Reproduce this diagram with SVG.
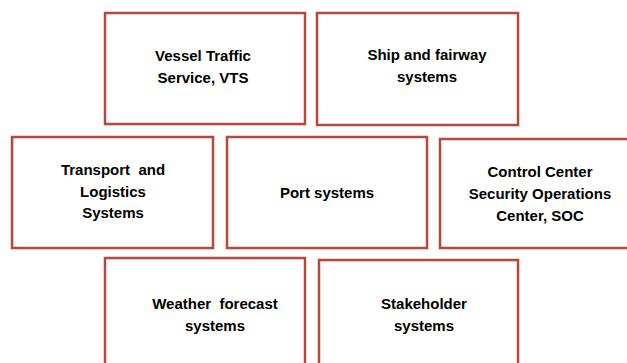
<svg xmlns="http://www.w3.org/2000/svg" width="627" height="363" viewBox="0 0 627 363">
<style>
.box{fill:#ffffff;stroke:#B9483B;stroke-width:2.5}
.t{font-family:"Liberation Sans",Arial,sans-serif;font-weight:bold;font-size:15px;fill:#000;text-anchor:middle;white-space:pre}
</style>
<rect width="627" height="363" fill="#ffffff"/>
<g id="connectors"></g>
<g id="vts"><rect class="box" x="105" y="13" width="200" height="111"/>
<text class="t" x="203" y="61">Vessel Traffic</text><text class="t" x="203" y="83">Service, VTS</text></g>
<g id="ship"><rect class="box" x="317" y="13" width="201" height="112"/>
<text class="t" x="427" y="60">Ship and fairway</text><text class="t" x="427" y="82">systems</text></g>
<g id="transport"><rect class="box" x="12" y="137" width="201" height="111"/>
<text class="t" x="113" y="175" xml:space="preserve">Transport  and</text><text class="t" x="113" y="197">Logistics</text><text class="t" x="113" y="218">Systems</text></g>
<g id="port"><rect class="box" x="227" y="137" width="200" height="111"/>
<text class="t" x="327" y="198">Port systems</text></g>
<g id="soc"><rect class="box" x="440" y="139" width="200" height="109"/>
<text class="t" x="540" y="177">Control Center</text><text class="t" x="540" y="199">Security Operations</text><text class="t" x="540" y="221">Center, SOC</text></g>
<g id="weather"><rect class="box" x="105" y="258" width="200" height="120"/>
<text class="t" x="215" y="309" xml:space="preserve">Weather  forecast</text><text class="t" x="215" y="331">systems</text></g>
<g id="stakeholder"><rect class="box" x="319" y="260" width="199" height="120"/>
<text class="t" x="424" y="309">Stakeholder</text><text class="t" x="424" y="331">systems</text></g>
</svg>
